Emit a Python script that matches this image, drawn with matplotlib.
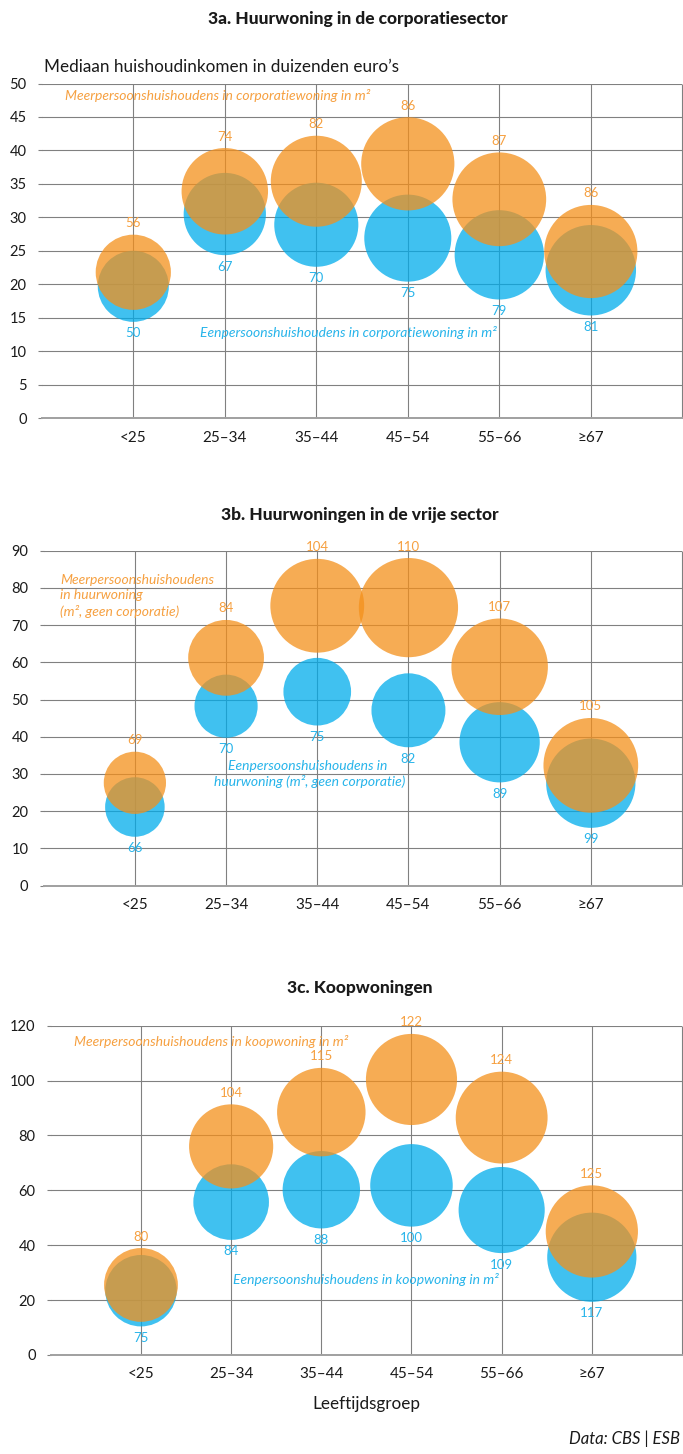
import matplotlib
matplotlib.use('Agg')
import matplotlib.pyplot as plt
import numpy as np

plt.rcParams['font.family'] = ['Lato', 'DejaVu Sans']

W, H, DPI = 683, 1454, 100

categories = ['<25', '25–34', '35–44', '45–54', '55–66', '≥67']

# 3a. Huurwoning in de corporatiesector
a_multi_income = [21.8, 33.9, 35.4, 38.0, 32.7, 24.9]
a_multi_m2 = [56, 74, 82, 86, 87, 86]
a_single_income = [19.7, 30.5, 28.9, 26.9, 24.4, 22.1]
a_single_m2 = [50, 67, 70, 75, 79, 81]

# 3b. Huurwoningen in de vrije sector
b_multi_income = [27.6, 61.2, 75.2, 74.7, 58.8, 32.3]
b_multi_m2 = [69, 84, 104, 110, 107, 105]
b_single_income = [21.1, 48.2, 52.1, 47.1, 38.5, 27.5]
b_single_m2 = [66, 70, 75, 82, 89, 99]

# 3c. Koopwoningen
c_multi_income = [25.5, 76.0, 88.5, 100.4, 86.5, 45.0]
c_multi_m2 = [80, 104, 115, 122, 124, 125]
c_single_income = [23.4, 55.7, 60.2, 61.8, 52.8, 35.6]
c_single_m2 = [75, 84, 88, 100, 109, 117]

ORANGE = '#F4901B'
BLUE = '#00ACEB'
ORANGE_TXT = '#F6A040'
BLUE_TXT = '#27B4EA'
GRID = '#808080'
ALPHA = 0.75
ITAL = 10

fig = plt.figure(figsize=(W / DPI, H / DPI), dpi=DPI)


def fx(px):
    return px / W


def fy(py):
    return 1 - py / H


def rect(left, right, top, bottom):
    return [fx(left), fy(bottom), fx(right) - fx(left), fy(top) - fy(bottom)]


def panel(r, ymax, ystep, multi_y, multi_m2, single_y, single_m2, diam):
    ax = fig.add_axes(r)
    ax.set_xlim(0, 7)
    ax.set_ylim(0, ymax)
    ax.set_xticks(range(1, 7))
    ax.set_xticklabels(categories)
    ax.set_yticks(np.arange(0, ymax + 0.1, ystep))
    ax.set_yticklabels([f'{int(v)}' for v in np.arange(0, ymax + 0.1, ystep)])
    ax.tick_params(axis='x', length=0, pad=9, labelsize=11, colors='#1a1a1a')
    ax.tick_params(axis='y', length=3, width=0.8, color=GRID, pad=8,
                   labelsize=10.5, labelcolor='#1a1a1a')
    for s in ['top', 'right', 'left']:
        ax.spines[s].set_visible(False)
    ax.spines['bottom'].set_color('#a0a0a0')
    ax.spines['bottom'].set_linewidth(1.4)
    ax.grid(axis='y', color=GRID, lw=0.8, zorder=0)
    ax.set_axisbelow(True)
    ax.vlines(range(1, 8), 0, ymax, color=GRID, lw=0.8, zorder=0.5, clip_on=False)
    xs = np.arange(1, 7)
    d_single = np.array([diam(v) for v in single_m2])
    d_multi = np.array([diam(v) for v in multi_m2])
    ax.scatter(xs, single_y, s=(d_single * 72 / DPI) ** 2, color=BLUE,
               alpha=ALPHA, linewidths=0, zorder=2)
    ax.scatter(xs, multi_y, s=(d_multi * 72 / DPI) ** 2, color=ORANGE,
               alpha=ALPHA, linewidths=0, zorder=3)
    for x, y, v, d in zip(xs, single_y, single_m2, d_single):
        ax.annotate(str(v), (x, y), xytext=(0, -(d / 2 + 11.5) * 72 / DPI),
                    textcoords='offset points', ha='center', va='center',
                    color=BLUE_TXT, fontsize=9.5, zorder=5)
    for x, y, v, d in zip(xs, multi_y, multi_m2, d_multi):
        ax.annotate(str(v), (x, y), xytext=(0, (d / 2 + 11.5) * 72 / DPI),
                    textcoords='offset points', ha='center', va='center',
                    color=ORANGE_TXT, fontsize=9.5, zorder=5)
    return ax


# Panel a
panel(rect(41.8, 682.3, 83.5, 418.2), 50, 5, a_multi_income, a_multi_m2,
      a_single_income, a_single_m2, lambda v: 10.05 * np.sqrt(v))
fig.text(fx(358), fy(19), '3a. Huurwoning in de corporatiesector', ha='center',
         va='center', fontsize=12.5, fontweight='black', color='#1a1a1a')
fig.text(fx(43.5), fy(66.5), 'Mediaan huishoudinkomen in duizenden euro’s',
         ha='left', va='center', fontsize=12.3, color='#1a1a1a')
fig.text(fx(65), fy(96), 'Meerpersoonshuishoudens in corporatiewoning in m²',
         ha='left', va='center', fontsize=ITAL, style='italic', color=ORANGE_TXT)
fig.text(fx(200), fy(332.5), 'Eenpersoonshuishoudens in corporatiewoning in m²',
         ha='left', va='center', fontsize=ITAL, style='italic', color=BLUE_TXT)

# Panel b
panel(rect(43.7, 682, 550.7, 885.5), 90, 10, b_multi_income, b_multi_m2,
      b_single_income, b_single_m2, lambda v: 0.902 * v)
fig.text(fx(360), fy(515), '3b. Huurwoningen in de vrije sector', ha='center',
         va='center', fontsize=12.5, fontweight='black', color='#1a1a1a')
fig.text(fx(60), fy(596), 'Meerpersoonshuishoudens\nin huurwoning\n(m², geen corporatie)',
         ha='left', va='center', fontsize=ITAL, style='italic', color=ORANGE_TXT,
         linespacing=1.35)
fig.text(fx(308), fy(765.5), 'Eenpersoonshuishoudens in',
         ha='center', va='center', fontsize=ITAL, style='italic', color=BLUE_TXT)
fig.text(fx(310), fy(781.5), 'huurwoning (m², geen corporatie)',
         ha='center', va='center', fontsize=ITAL, style='italic', color=BLUE_TXT)

# Panel c
panel(rect(50.8, 682, 1025.7, 1354.9), 120, 20, c_multi_income, c_multi_m2,
      c_single_income, c_single_m2, lambda v: 8.25 * np.sqrt(v))
fig.text(fx(360), fy(988.5), '3c. Koopwoningen', ha='center',
         va='center', fontsize=12.5, fontweight='black', color='#1a1a1a')
fig.text(fx(74), fy(1041), 'Meerpersoonshuishoudens in koopwoning in m²',
         ha='left', va='center', fontsize=ITAL, style='italic', color=ORANGE_TXT)
fig.text(fx(233), fy(1279), 'Eenpersoonshuishoudens in koopwoning in m²',
         ha='left', va='center', fontsize=ITAL, style='italic', color=BLUE_TXT)

fig.text(fx(366), fy(1404), 'Leeftijdsgroep', ha='center', va='center',
         fontsize=12.3, color='#1a1a1a')
fig.text(fx(680), fy(1439), 'Data: CBS | ESB', ha='right', va='center',
         fontsize=12, style='italic', color='#1a1a1a')

fig.savefig('out.png', dpi=DPI)
